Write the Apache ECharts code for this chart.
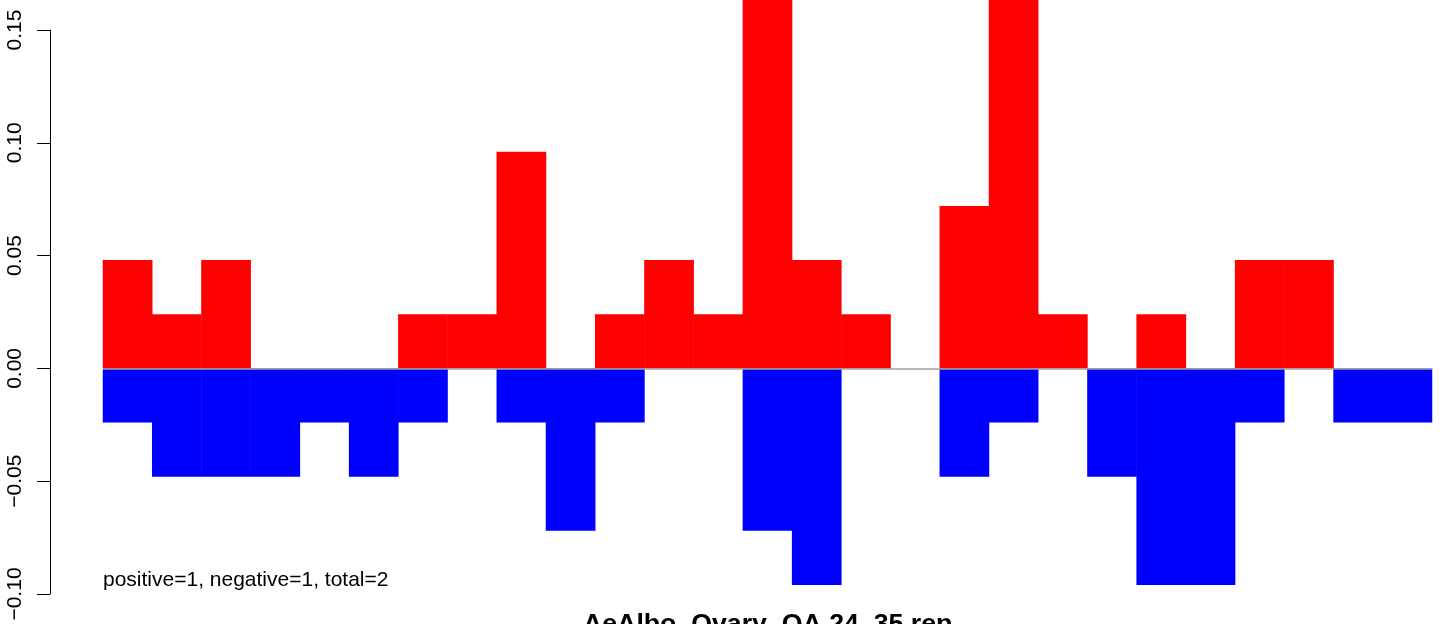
<!DOCTYPE html>
<html>
<head>
<meta charset="utf-8">
<script src="https://cdn.jsdelivr.net/npm/echarts@6/dist/echarts.min.js"></script>
<style>
html,body{margin:0;padding:0;background:#fff;}
#chart{width:1441px;height:624px;}
</style>
</head>
<body>
<div id="chart"></div>
<script>
// Data
const categories = Array.from({length: 27}, (_, i) => 'bin' + (i + 1));
const positiveValues = [0.048,0.024,0.048,0,0,0,0.024,0.024,0.096,0,0.024,0.048,0.024,0.17,0.048,0.024,0,0.072,0.17,0.024,0,0.024,0,0.048,0.048,0,0];
const negativeValues = [-0.024,-0.048,-0.048,-0.048,-0.024,-0.048,-0.024,0,-0.024,-0.072,-0.024,0,0,-0.072,-0.096,0,0,-0.048,-0.024,0,-0.048,-0.096,-0.096,-0.024,0,-0.024,-0.024];
const yTicks = [-0.10, -0.05, 0.00, 0.05, 0.10, 0.15];
const annotation = 'positive=1, negative=1, total=2';
const mainTitle = 'AeAlbo_Ovary_OA.24_35.rep';

const FONT = '"Liberation Sans", Arial, Helvetica, sans-serif';
const chart = echarts.init(document.getElementById('chart'), null, {renderer: 'canvas'});

// zero-height bars are simply not drawn
const asBars = arr => arr.map(v => (v === 0 ? '-' : v));

chart.setOption({
  animation: false,
  backgroundColor: '#ffffff',
  title: [
    {
      text: annotation,
      left: 103, top: 570,
      padding: 0,
      textStyle: {fontFamily: FONT, fontSize: 21, fontWeight: 'normal', color: '#000'}
    },
    {
      text: mainTitle,
      left: 583, top: 611,
      padding: 0,
      textStyle: {fontFamily: FONT, fontSize: 26.7, fontWeight: 'bold', color: '#000'}
    }
  ],
  grid: {left: 103, right: 9, top: 30, bottom: 30, containLabel: false},
  xAxis: {
    type: 'category',
    data: categories,
    show: false,
    boundaryGap: true
  },
  yAxis: {
    type: 'value',
    min: yTicks[0],
    max: yTicks[yTicks.length - 1],
    interval: 0.05,
    offset: 53,
    splitLine: {show: false},
    axisLine: {show: true, lineStyle: {color: '#000', width: 1}},
    axisTick: {show: true, length: 13, lineStyle: {color: '#000', width: 1}},
    axisLabel: {
      rotate: 90,
      margin: 24,
      fontFamily: FONT,
      fontSize: 21,
      color: '#000',
      formatter: v => v.toFixed(2).replace('-', '\u2212')
    }
  },
  series: [
    {
      type: 'line',
      data: [],
      z: 1,
      silent: true,
      markLine: {
        symbol: 'none',
        silent: true,
        label: {show: false},
        lineStyle: {color: '#a0a0a0', width: 1.5, type: 'solid'},
        data: [{yAxis: 0}]
      }
    },
    {
      name: 'positive',
      type: 'bar',
      data: asBars(positiveValues),
      barWidth: '101%',
      barGap: '-100%',
      clip: false,
      z: 3,
      itemStyle: {color: '#ff0000'}
    },
    {
      name: 'negative',
      type: 'bar',
      data: asBars(negativeValues),
      barWidth: '101%',
      barGap: '-100%',
      clip: false,
      z: 2,
      itemStyle: {color: '#0000ff'}
    }
  ]
});
</script>
</body>
</html>
